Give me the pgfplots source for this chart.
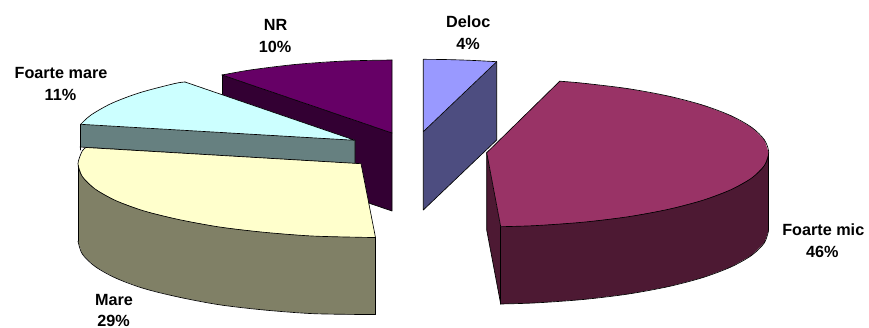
\documentclass[border=0pt]{standalone}
\usepackage{pgfplots}
\pgfplotsset{compat=1.18}
\usepackage{fontspec}
\setmainfont{Liberation Sans}
\definecolor{nrT}{HTML}{660066}\definecolor{nrS}{HTML}{330033}
\definecolor{fmT}{HTML}{CCFFFF}\definecolor{fmS}{HTML}{668080}
\definecolor{maT}{HTML}{FFFFCC}\definecolor{maS}{HTML}{808066}
\definecolor{deT}{HTML}{9999FF}\definecolor{deS}{HTML}{4D4D80}
\definecolor{miT}{HTML}{993366}\definecolor{miS}{HTML}{4D1933}
\pgfplotsset{
  F/.style={fill=#1,draw=none,forget plot,no marks},
  E/.style={draw=black,line width=0.65pt,line join=round,line cap=round,forget plot,no marks},
  A/.style={draw=black,line width=0.65pt,line join=round,line cap=round,smooth,forget plot,no marks}
}
\newcommand{\lab}[3]{\node[font=\fontsize{16.2}{18}\selectfont\bfseries,inner sep=0pt,align=center] at (axis cs:#1,#2) {#3};}
\begin{document}
\begin{tikzpicture}
\begin{axis}[scale only axis,width=869pt,height=328pt,xmin=0,xmax=869,ymin=0,ymax=328,y dir=reverse,hide axis,clip=false]
\path (axis cs:0,0) rectangle (axis cs:869,328);
% NR side and top
\addplot[F=nrS] coordinates {(222,75)(392,133)(392,211)(222,153)} --cycle;
\addplot[E] coordinates {(222,75)(222,153)};
\addplot[E] coordinates {(392,133)(392,211)(222,153)};
\addplot[F=nrT] coordinates {(222,75)(251.5,69.8)(295.9,64.4)(343.2,61.1)(392,60)(392,133)} --cycle;
\addplot[A] coordinates {(222,75)(251.5,69.8)(295.9,64.4)(343.2,61.1)(392,60)};
\addplot[E] coordinates {(392,60)(392,133)(222,75)};
% Foarte mare side and top
\addplot[F=fmS] coordinates {(80,124.3)(355,140.3)(355,163.5)(80,147)} --cycle;
\addplot[E] coordinates {(80,124.3)(80,150)};
\addplot[E] coordinates {(355,140.3)(355,163.5)(80,147)};
\addplot[F=fmT] coordinates {(80.7,124.3)(91,115)(111.7,103.3)(139.8,92.7)(174.4,83.6)(185,82)(355,140.3)} --cycle;
\addplot[A] coordinates {(80.7,124.3)(91,115)(111.7,103.3)(139.8,92.7)(174.4,83.6)(185,82)};
\addplot[E] coordinates {(185,82)(355,140.3)(80.7,124.3)};
% Mare side and top
\addplot[F=maS] coordinates {(78,163.7)(78,241.2)(82.3,254)(95.1,266.5)(116,278.2)(144.2,288.6)(179.1,297.2)(219.5,304.8)(264.2,310)(311.9,313.6)(361,314.5)(375.5,314.5)(375.5,237.5)} --cycle;
\addplot[A] coordinates {(78,241.2)(82.3,254)(95.1,266.5)(116,278.2)(144.2,288.6)(179.1,297.2)(219.5,304.8)(264.2,310)(311.9,313.6)(361,314.5)(375.5,314.5)};
\addplot[E] coordinates {(78,165)(78,241.2)};
\addplot[E] coordinates {(375.5,237.5)(375.5,314.5)};
\addplot[F=maT] coordinates {(86,147.5)(82.3,150.9)(78,163.7)(82.3,176.5)(95.1,189)(116,200.7)(144.2,211)(179.1,219.6)(219.5,227)(264.2,232.3)(311.9,236)(361,237.3)(375.5,237.5)(361,163.7)} --cycle;
\addplot[A] coordinates {(86,147.5)(82.3,150.9)(78,163.7)(82.3,176.5)(95.1,189)(116,200.7)(144.2,211)(179.1,219.6)(219.5,227)(264.2,232.3)(311.9,236)(361,237.3)(375.5,237.5)};
\addplot[E] coordinates {(375.5,237.5)(361,163.7)(86,147.5)};
% Deloc side and top
\addplot[F=deS] coordinates {(423.3,131.7)(496.7,61.7)(496.7,140)(423.3,210)} --cycle;
\addplot[E] coordinates {(423.3,131.7)(423.3,210)(496.7,140)(496.7,61.7)};
\addplot[F=deT] coordinates {(423.3,59.3)(447.8,59.6)(472.1,60.4)(496.7,61.7)(423.3,131.7)} --cycle;
\addplot[A] coordinates {(423.3,59.3)(447.8,59.6)(472.1,60.4)(496.7,61.7)};
\addplot[E] coordinates {(496.7,61.7)(423.3,131.7)(423.3,59.3)};
% Foarte mic sides and top
\addplot[F=miS] coordinates {(486.7,152.7)(500.7,226.7)(500.7,304)(486.7,230)} --cycle;
\addplot[E] coordinates {(486.7,152.7)(486.7,230)(500.7,304)};
\addplot[F=miS] coordinates {(768.7,152.7)(768.7,230)(764.4,242.8)(751.7,255.3)(730.9,267)(702.7,277.6)(668,286.7)(627.7,294.1)(583.1,299.5)(535.7,302.9)(500.7,304)(500.7,226.7)} --cycle;
\addplot[A] coordinates {(768.7,230)(764.4,242.8)(751.7,255.3)(730.9,267)(702.7,277.6)(668,286.7)(627.7,294.1)(583.1,299.5)(535.7,302.9)(500.7,304)};
\addplot[E] coordinates {(768.7,152.7)(768.7,230)};
\addplot[E] coordinates {(500.7,226.7)(500.7,304)};
\addplot[F=miT] coordinates {(559.7,81.2)(583.1,83.2)(627.7,88.6)(668,96)(702.7,105.1)(730.9,115.7)(751.7,127.4)(764.4,139.9)(768.7,152.7)(764.4,165.5)(751.7,178)(730.9,189.7)(702.7,200.3)(668,209.4)(627.7,216.8)(583.1,222.2)(535.7,225.6)(500.7,226.7)(486.7,152.7)} --cycle;
\addplot[A] coordinates {(559.7,81.2)(583.1,83.2)(627.7,88.6)(668,96)(702.7,105.1)(730.9,115.7)(751.7,127.4)(764.4,139.9)(768.7,152.7)(764.4,165.5)(751.7,178)(730.9,189.7)(702.7,200.3)(668,209.4)(627.7,216.8)(583.1,222.2)(535.7,225.6)(500.7,226.7)};
\addplot[E] coordinates {(500.7,226.7)(486.7,152.7)(559.7,81.2)};
% labels
\lab{275.5}{25}{NR}
\lab{275}{47.3}{10\%}
\lab{468.3}{21.5}{Deloc}
\lab{468}{43.5}{4\%}
\lab{61}{73.5}{Foarte mare}
\lab{60.5}{95}{11\%}
\lab{114}{300}{Mare}
\lab{113.5}{320.8}{29\%}
\lab{823.3}{230}{Foarte mic}
\lab{822.3}{252}{46\%}
\end{axis}
\end{tikzpicture}
\end{document}
